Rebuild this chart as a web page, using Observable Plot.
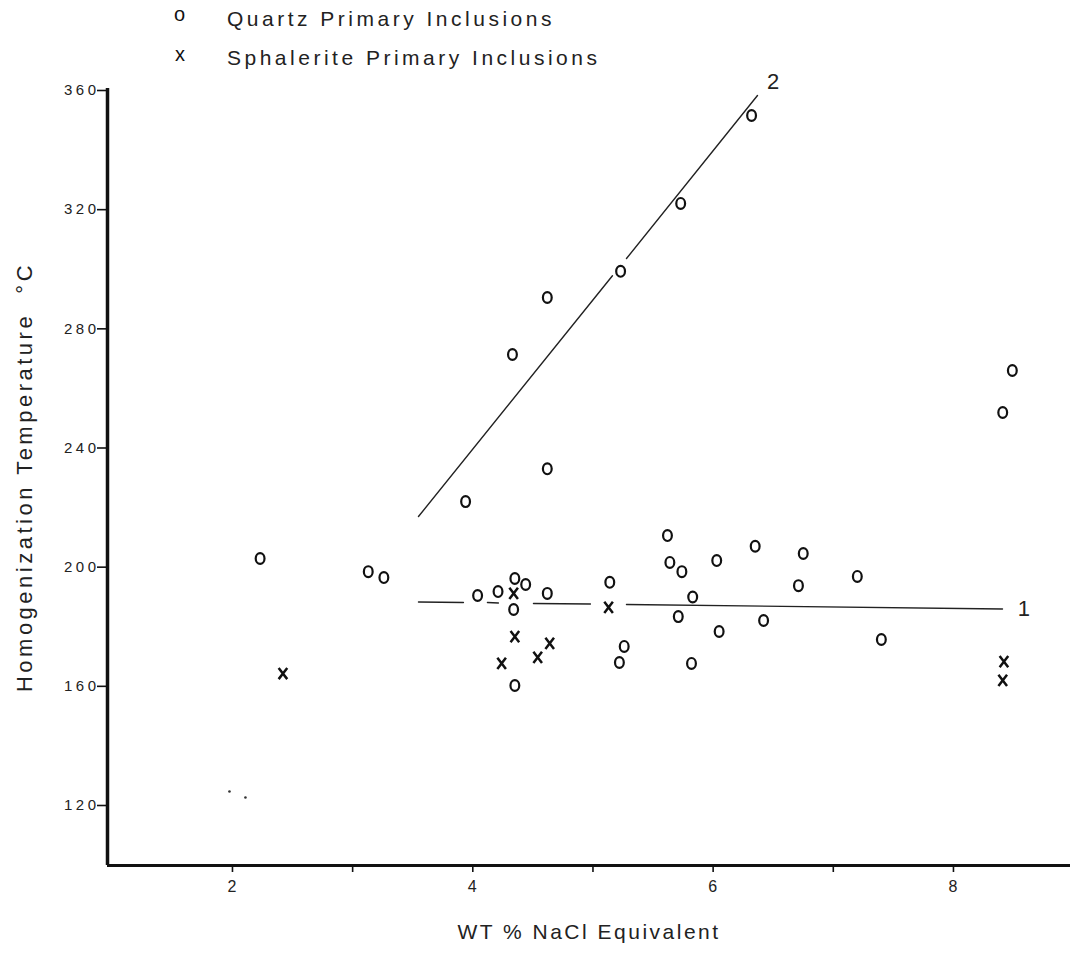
<!DOCTYPE html>
<html><head><meta charset="utf-8">
<script src="https://cdn.jsdelivr.net/npm/d3@7"></script>
<script src="https://cdn.jsdelivr.net/npm/@observablehq/plot@0.6"></script>
<style>
body{margin:0;background:#fff;font-family:"Liberation Sans",Arial,sans-serif;color:#111;}
#legend{position:relative;height:75px;width:1074px;}
#legend span{position:absolute;white-space:nowrap;line-height:1.15;}
.lt{font-size:21px;letter-spacing:3.5px;color:#222;}
.ls{font-size:20px;color:#111;}
</style></head><body>
<div id="legend"></div>
<div id="chart"></div>
<script>
// ---- data ----
const legendLabels = ["Quartz Primary Inclusions", "Sphalerite Primary Inclusions"];
const legendSymbols = ["o", "x"];
const xLabel = "WT % NaCl Equivalent";
const yLabel = "Homogenization Temperature  °C";

const xTicks = [2, 3, 4, 5, 6, 7, 8];
const xTickLabels = ["2", "", "4", "", "6", "", "8"];
const yTicks = [120, 160, 200, 240, 280, 320, 360];

// Quartz primary inclusions (o)
const quartzX = [3.94, 4.33, 4.62, 4.62, 5.23, 5.73, 6.32, 8.41, 8.49,
  2.23, 3.13, 3.26, 4.04, 4.21, 4.35, 4.44, 4.34, 4.62, 4.35, 5.14, 5.62, 5.64, 5.74,
  6.03, 5.83, 5.71, 6.05, 5.26, 5.22, 5.82, 6.35, 6.75, 6.71, 7.20, 6.42, 7.40];
const quartzY = [222.0, 271.4, 290.5, 233.0, 299.3, 322.1, 351.6, 251.9, 266.0,
  202.9, 198.5, 196.5, 190.5, 191.8, 196.2, 194.2, 185.8, 191.2, 160.3, 194.9, 210.6, 201.6, 198.5,
  202.2, 190.0, 183.4, 178.4, 173.4, 168.0, 167.7, 207.0, 204.6, 193.8, 196.9, 182.1, 175.7];

// Sphalerite primary inclusions (x)
const sphalX = [2.42, 4.34, 5.13, 4.35, 4.64, 4.54, 4.24, 8.42, 8.41];
const sphalY = [164.3, 191.2, 186.5, 176.7, 174.4, 169.7, 167.7, 168.3, 162.0];

// faint specks near (2, 123)
const speckX = [1.975, 2.108];
const speckY = [124.7, 122.7];

// trend line 1 (drawn with gaps where symbols sit)
const line1Seg = [0, 0, 1, 1, 2, 2, 3, 3];
const line1X = [3.548, 3.922, 4.122, 4.213, 4.505, 4.979, 5.279, 8.408];
const line1Y = [188.3, 188.14, 188.14, 187.98, 187.81, 187.64, 187.48, 185.96];

// trend line 2
const line2Seg = [0, 0, 1, 1];
const line2X = [3.548, 5.162, 5.279, 6.369];
const line2Y = [217.0, 297.8, 303.6, 358.3];

const lineLabels = ["1", "2"];
const lineLabelX = [8.585, 6.50];
const lineLabelY = [186.1, 362.7];

const xDomain = [0.96, 8.974];
const yDomain = [99.86, 360.67];

// ---- build tables ----
const quartz = quartzX.map((x, i) => ({x, y: quartzY[i]}));
const sphal = sphalX.map((x, i) => ({x, y: sphalY[i]}));
const specks = speckX.map((x, i) => ({x, y: speckY[i]}));
const line1 = line1X.map((x, i) => ({x, y: line1Y[i], seg: line1Seg[i]}));
const line2 = line2X.map((x, i) => ({x, y: line2Y[i], seg: line2Seg[i]}));
const lineLab = lineLabels.map((t, i) => ({t, x: lineLabelX[i], y: lineLabelY[i]}));

// custom symbols
const ellipseSym = {draw(ctx) {
  const rx = 4.4, ry = 5.4, k = 0.5523;
  ctx.moveTo(rx, 0);
  ctx.bezierCurveTo(rx, k * ry, k * rx, ry, 0, ry);
  ctx.bezierCurveTo(-k * rx, ry, -rx, k * ry, -rx, 0);
  ctx.bezierCurveTo(-rx, -k * ry, -k * rx, -ry, 0, -ry);
  ctx.bezierCurveTo(k * rx, -ry, rx, -k * ry, rx, 0);
  ctx.closePath();
}};
const crossSym = {draw(ctx) {
  const a = 4.3, b = 5.6;
  ctx.moveTo(-a, -b); ctx.lineTo(a, b);
  ctx.moveTo(a, -b); ctx.lineTo(-a, b);
}};

// ---- legend (HTML, above the svg) ----
const legend = document.getElementById("legend");
const rows = [{sym: 174, txt: 227, symTop: 3, txtTop: 7}, {sym: 175, txt: 227, symTop: 43, txtTop: 46}];
legendLabels.forEach((lab, i) => {
  const s = document.createElement("span");
  s.className = "ls"; s.textContent = legendSymbols[i];
  s.style.left = rows[i].sym + "px"; s.style.top = rows[i].symTop + "px";
  legend.appendChild(s);
  const t = document.createElement("span");
  t.className = "lt"; t.textContent = lab;
  t.style.left = rows[i].txt + "px"; t.style.top = rows[i].txtTop + "px";
  legend.appendChild(t);
});

// ---- chart ----
const chart = Plot.plot({
  width: 1074,
  height: 882,
  marginLeft: 107,
  marginRight: 4,
  marginTop: 13,
  marginBottom: 92,
  x: {domain: xDomain, axis: null},
  y: {domain: yDomain, axis: null},
  style: {fontFamily: "Liberation Sans, Arial, sans-serif", background: "white", overflow: "visible", color: "#111"},
  marks: [
    Plot.axisY({ticks: yTicks, tickSize: 10, tickPadding: -2, fontSize: 15, strokeWidth: 1.6, label: null, fill: "#222"}),
    Plot.axisX({ticks: xTicks, tickSize: 7, tickPadding: 8, fontSize: 16, strokeWidth: 1.6, label: null,
      tickFormat: (d) => xTickLabels[xTicks.indexOf(d)], fill: "#222"}),
    Plot.ruleX([xDomain[0]], {y1: yDomain[0], y2: yDomain[1], stroke: "#111", strokeWidth: 3.5}),
    Plot.ruleY([yDomain[0]], {x1: xDomain[0], x2: xDomain[1], stroke: "#111", strokeWidth: 3.2}),
    Plot.line(line1, {x: "x", y: "y", z: "seg", stroke: "#222", strokeWidth: 1.4}),
    Plot.line(line2, {x: "x", y: "y", z: "seg", stroke: "#222", strokeWidth: 1.4}),
    Plot.dot(quartz, {x: "x", y: "y", symbol: ellipseSym, stroke: "#111", strokeWidth: 2.2, fill: "none"}),
    Plot.dot(sphal, {x: "x", y: "y", symbol: crossSym, stroke: "#111", strokeWidth: 2.5, fill: "none"}),
    Plot.dot(specks, {x: "x", y: "y", r: 1.3, fill: "#333", stroke: "none"}),
    Plot.text(lineLab, {x: "x", y: "y", text: "t", fontSize: 22, fill: "#222"}),
    Plot.text([yLabel], {frameAnchor: "left", textAnchor: "middle", dx: -83, rotate: -90, fontSize: 22, fill: "#222", className: "ylab"}),
    Plot.text([xLabel], {frameAnchor: "bottom", dy: 73, fontSize: 21, fill: "#222", className: "xlab"})
  ]
});
document.getElementById("chart").appendChild(chart);
chart.querySelectorAll('[aria-label="y-axis tick label"] text').forEach(t => t.style.letterSpacing = "3.5px");
chart.querySelectorAll('[aria-label="x-axis tick label"] text').forEach(t => t.style.letterSpacing = "1px");
chart.querySelectorAll('.ylab text').forEach(t => t.style.letterSpacing = "3.5px");
chart.querySelectorAll('.xlab text').forEach(t => t.style.letterSpacing = "2.5px");
</script>
</body></html>
